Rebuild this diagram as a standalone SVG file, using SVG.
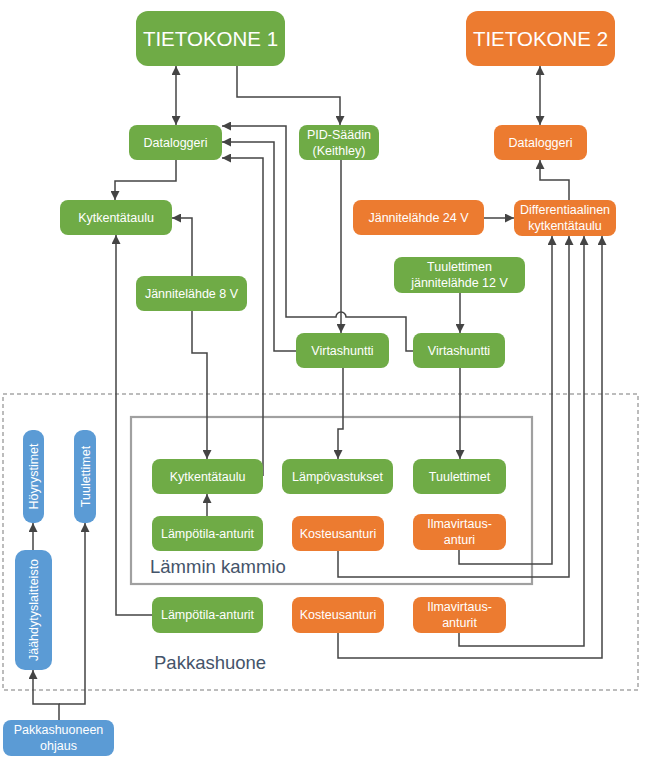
<svg xmlns="http://www.w3.org/2000/svg" width="646" height="760" viewBox="0 0 646 760">
<defs>
<marker id="ah" viewBox="0 0 10 10" refX="10" refY="5" markerWidth="9" markerHeight="9" markerUnits="userSpaceOnUse" orient="auto-start-reverse">
<path d="M0,0 L10,5 L0,10 z" fill="#444"/>
</marker>
<style>
.g{fill:#6fab46}
.o{fill:#ec7b30}
.b{fill:#5b9bd5}
.t{font-family:"Liberation Sans",Arial,sans-serif;font-size:12.5px;fill:#fff;text-anchor:middle}
.big{font-family:"Liberation Sans",Arial,sans-serif;font-size:20.5px;fill:#fff;text-anchor:middle}
.lbl{font-family:"Liberation Sans",Arial,sans-serif;font-size:18.5px;fill:#44546a}
.c{fill:none;stroke:#444;stroke-width:1.5}
.a{marker-end:url(#ah)}
.d{marker-start:url(#ah);marker-end:url(#ah)}
</style>
</defs>
<rect id="pakkashuone" x="3" y="394" width="635" height="296" fill="none" stroke="#a6a6a6" stroke-width="1.5" stroke-dasharray="4 3"/>
<rect id="lamminkammio" x="131" y="417" width="401" height="167" fill="none" stroke="#a0a0a0" stroke-width="2.2"/>
<text class="lbl" x="150" y="573">Lämmin kammio</text>
<text class="lbl" x="154" y="669">Pakkashuone</text>

<g id="connectors">
<path class="c d" d="M176 66 V125"/>
<path class="c a" d="M237 66 V97 H340 V125"/>
<path class="c a" d="M176 160 V181 H115 V200"/>
<path class="c a" d="M413 351 H406 V317 H346 A5 5 0 0 0 336 317 H286 V126 H222"/>
<path class="c a" d="M296 351 H274 V142 H222"/>
<path class="c a" d="M263 476 V158 H222"/>
<path class="c a" d="M192 276 V218 H172"/>
<path class="c a" d="M192 311 V353 H207 V459"/>
<path class="c a" d="M152 615 H116 V235"/>
<path class="c a" d="M207 516 V494"/>
<path class="c a" d="M341 160 V333"/>
<path class="c a" d="M343 368 V429 H338 V459"/>
<path class="c a" d="M460 293 V333"/>
<path class="c a" d="M460 368 V459"/>
<path class="c d" d="M540 66 V125"/>
<path class="c a" d="M569 200 V180 H540 V160"/>
<path class="c a" d="M484 218 H514"/>
<path class="c a" d="M459 550 V564 H552 V236"/>
<path class="c a" d="M338 551 V577 H569 V236"/>
<path class="c a" d="M459 633 V646 H584 V236"/>
<path class="c a" d="M338 633 V658 H602 V236"/>
<path class="c a" d="M59 720 V704 H33 V670"/>
<path class="c a" d="M59 704 H85 V523"/>
<path class="c a" d="M33 550 V523"/>
</g>

<g id="tietokone1"><rect class="g" x="136" y="11" width="149" height="55" rx="12"/><text class="big" x="210.5" y="46">TIETOKONE 1</text></g>
<g id="tietokone2"><rect class="o" x="466" y="11" width="149" height="55" rx="12"/><text class="big" x="540.5" y="46">TIETOKONE 2</text></g>
<g id="dataloggeri1"><rect class="g" x="129" y="125" width="93" height="35" rx="8"/><text class="t" x="175.5" y="147">Dataloggeri</text></g>
<g id="pid"><rect class="g" x="299" y="125" width="80" height="35" rx="8"/><text class="t" x="339" y="139">PID-Säädin</text><text class="t" x="339" y="155">(Keithley)</text></g>
<g id="dataloggeri2"><rect class="o" x="494" y="125" width="93" height="35" rx="8"/><text class="t" x="540.5" y="147">Dataloggeri</text></g>
<g id="kytkentataulu1"><rect class="g" x="60" y="200" width="112" height="35" rx="8"/><text class="t" x="116" y="222">Kytkentätaulu</text></g>
<g id="jannite24"><rect class="o" x="353" y="200" width="131" height="35" rx="8"/><text class="t" x="418.5" y="222">Jännitelähde 24 V</text></g>
<g id="diff"><rect class="o" x="514" y="200" width="102" height="36" rx="8"/><text class="t" x="565" y="214">Differentiaalinen</text><text class="t" x="565" y="230">kytkentätaulu</text></g>
<g id="tuuljannite"><rect class="g" x="394" y="257" width="131" height="36" rx="8"/><text class="t" x="459.5" y="271">Tuulettimen</text><text class="t" x="459.5" y="287">jännitelähde 12 V</text></g>
<g id="jannite8"><rect class="g" x="136" y="276" width="111" height="35" rx="8"/><text class="t" x="191.5" y="298">Jännitelähde 8 V</text></g>
<g id="virtashuntti1"><rect class="g" x="296" y="333" width="93" height="35" rx="8"/><text class="t" x="342.5" y="355">Virtashuntti</text></g>
<g id="virtashuntti2"><rect class="g" x="413" y="333" width="92" height="35" rx="8"/><text class="t" x="459" y="355">Virtashuntti</text></g>
<g id="kytkentataulu2"><rect class="g" x="152" y="459" width="111" height="35" rx="8"/><text class="t" x="207.5" y="481">Kytkentätaulu</text></g>
<g id="lampovastukset"><rect class="g" x="282" y="459" width="111" height="35" rx="8"/><text class="t" x="337.5" y="481">Lämpövastukset</text></g>
<g id="tuulettimet1"><rect class="g" x="413" y="459" width="93" height="35" rx="8"/><text class="t" x="459.5" y="481">Tuulettimet</text></g>
<g id="lampotila1"><rect class="g" x="152" y="516" width="111" height="35" rx="8"/><text class="t" x="207.5" y="538">Lämpötila-anturit</text></g>
<g id="kosteus1"><rect class="o" x="292" y="516" width="92" height="35" rx="8"/><text class="t" x="338" y="538">Kosteusanturi</text></g>
<g id="ilmavirtaus1"><rect class="o" x="413" y="514" width="93" height="36" rx="8"/><text class="t" x="459.5" y="528">Ilmavirtaus-</text><text class="t" x="459.5" y="544">anturi</text></g>
<g id="lampotila2"><rect class="g" x="152" y="597" width="111" height="36" rx="8"/><text class="t" x="207.5" y="619">Lämpötila-anturit</text></g>
<g id="kosteus2"><rect class="o" x="292" y="597" width="92" height="36" rx="8"/><text class="t" x="338" y="619">Kosteusanturi</text></g>
<g id="ilmavirtaus2"><rect class="o" x="413" y="597" width="93" height="36" rx="8"/><text class="t" x="459.5" y="611">Ilmavirtaus-</text><text class="t" x="459.5" y="627">anturit</text></g>
<g id="hoyrystimet"><rect class="b" x="23" y="430" width="21" height="93" rx="9"/><text class="t" transform="translate(38 476.5) rotate(-90)">Höyrystimet</text></g>
<g id="tuulettimet2"><rect class="b" x="74" y="430" width="22" height="93" rx="9"/><text class="t" transform="translate(89.5 476.5) rotate(-90)">Tuulettimet</text></g>
<g id="jaahdytys"><rect class="b" x="15" y="550" width="37" height="120" rx="10"/><text class="t" transform="translate(38 610) rotate(-90)">Jäähdytyslaitteisto</text></g>
<g id="ohjaus"><rect class="b" x="3" y="720" width="111" height="36" rx="8"/><text class="t" x="58.5" y="734">Pakkashuoneen</text><text class="t" x="58.5" y="750">ohjaus</text></g>
</svg>
